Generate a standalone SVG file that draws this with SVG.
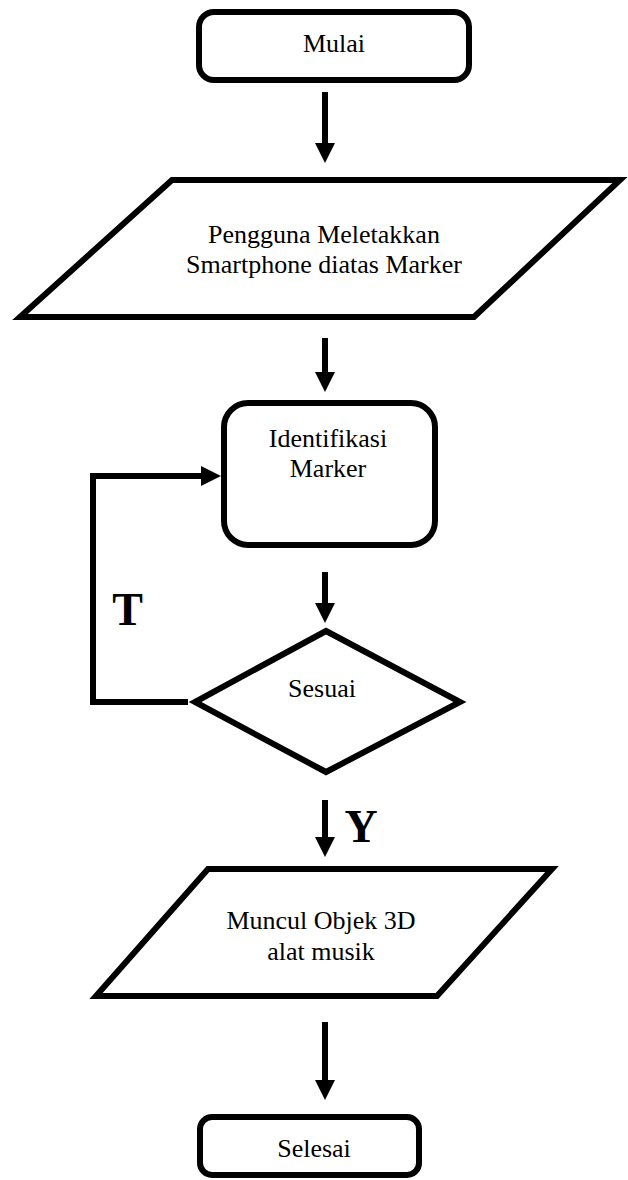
<svg xmlns="http://www.w3.org/2000/svg" width="628" height="1180" viewBox="0 0 628 1180">
<style>
.shape{fill:#fff;stroke:#000;stroke-width:6;stroke-linejoin:miter;stroke-miterlimit:10}
.conn{fill:none;stroke:#000;stroke-width:6;stroke-linejoin:miter}
.lbl{font-family:"Liberation Serif","Times New Roman",serif;font-size:26px;fill:#000;text-anchor:middle}
.yt{font-family:"Liberation Serif","Times New Roman",serif;font-size:46px;font-weight:bold;fill:#000;text-anchor:middle}
</style>
<defs>
<marker id="ah" viewBox="0 0 20 20" refX="2" refY="10" markerWidth="20" markerHeight="20" markerUnits="userSpaceOnUse" orient="auto">
<path d="M0,0 L20,10 L0,20 z" fill="#000"/>
</marker>
</defs>
<g id="connectors">
<path class="conn" d="M325,92 V145" marker-end="url(#ah)"/>
<path class="conn" d="M325,338 V374" marker-end="url(#ah)"/>
<path class="conn" d="M188,702 H93 V476 H203" marker-end="url(#ah)"/>
<path class="conn" d="M325,572 V605" marker-end="url(#ah)"/>
<path class="conn" d="M325,800 V839" marker-end="url(#ah)"/>
<path class="conn" d="M325,1022 V1082" marker-end="url(#ah)"/>
<text class="yt" x="127.5" y="625">T</text>
<text class="yt" x="361" y="842">Y</text>
</g>
<g id="mulai">
<rect class="shape" x="199" y="12" width="270" height="68" rx="15" ry="15"/>
<text class="lbl" x="334" y="52">Mulai</text>
</g>
<g id="letakkan">
<polygon class="shape" points="172,180 620,180 474,317 20,317"/>
<text class="lbl" x="324" y="243">Pengguna Meletakkan</text>
<text class="lbl" x="324" y="273">Smartphone diatas Marker</text>
</g>
<g id="identifikasi">
<rect class="shape" x="224" y="403" width="211" height="142" rx="24" ry="24"/>
<text class="lbl" x="328" y="447">Identifikasi</text>
<text class="lbl" x="328" y="477">Marker</text>
</g>
<g id="sesuai">
<polygon class="shape" points="326,631 460,702 326,772 195,702"/>
<text class="lbl" x="322" y="697">Sesuai</text>
</g>
<g id="muncul">
<polygon class="shape" points="208,869 552,869 437,996 96,996"/>
<text class="lbl" x="321" y="929">Muncul Objek 3D</text>
<text class="lbl" x="321" y="960">alat musik</text>
</g>
<g id="selesai">
<rect class="shape" x="200" y="1117" width="219" height="58" rx="12" ry="12"/>
<text class="lbl" x="314" y="1157">Selesai</text>
</g>
</svg>
